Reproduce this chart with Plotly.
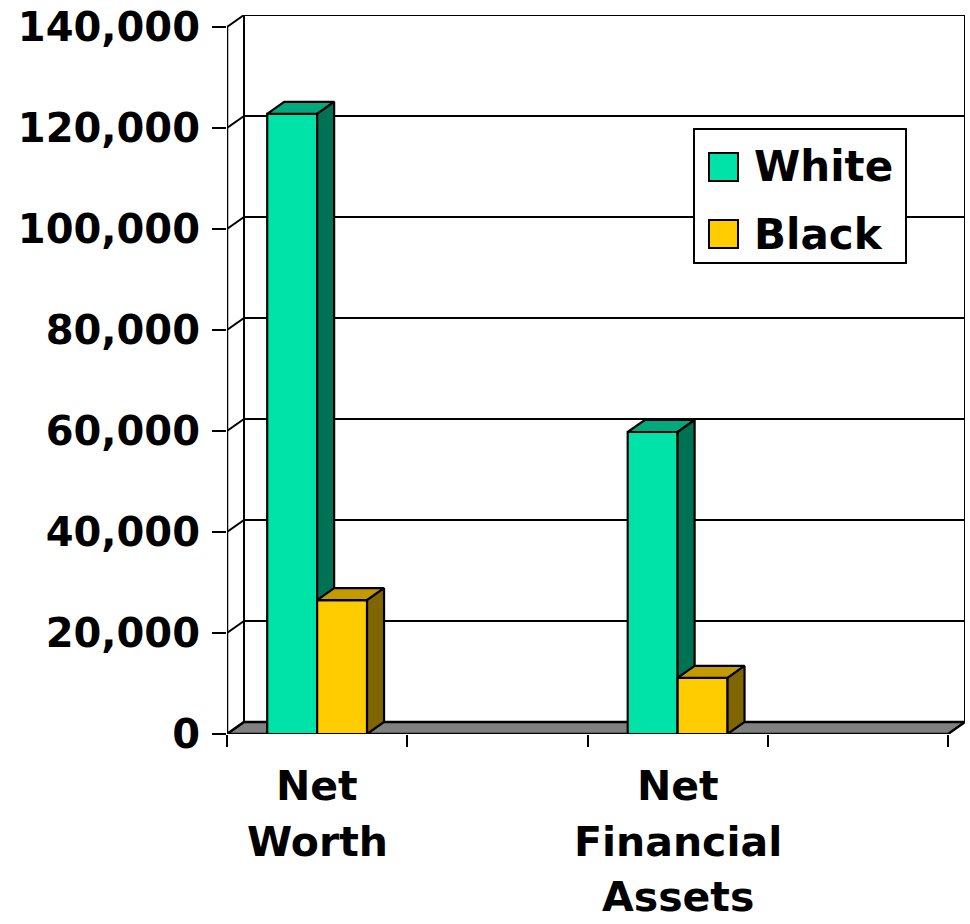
import plotly.graph_objects as go

# ---- data -------------------------------------------------------------
categories = ["Net Worth", "", "Net Financial Assets", ""]
cat_lines = [["Net", "Worth"], [], ["Net", "Financial", "Assets"], []]
series_names = ["White", "Black"]
white_values = [122800, None, 59800, None]
black_values = [26500, None, 11100, None]
y_ticks = [0, 20000, 40000, 60000, 80000, 100000, 120000, 140000]

# ---- styling ----------------------------------------------------------
FONT = "DejaVu Sans"
face_colors = {
    "White": ("#00E3A8", "#00AA7E", "#007254"),   # front, top, side
    "Black": ("#FFCC00", "#C29B00", "#806600"),
}
FLOOR = "#808080"
W, H = 970, 924
ML, MR, MT, MB = 227, 5, 15, 190
plot_w = W - ML - MR
plot_h = H - MT - MB

# depth of the pseudo-3D box in pixels
DEPTH_PX_X, DEPTH_PX_Y = 17, 12
ymax = max(y_ticks)
front_h_px = plot_h - DEPTH_PX_Y
y_top = ymax * plot_h / front_h_px
dyu = y_top - ymax
n_cat = len(categories)
front_w_px = plot_w - DEPTH_PX_X
dxu = n_cat * DEPTH_PX_X / front_w_px
x0, x1 = -0.5, n_cat - 0.5

bar_w = 0.277

fig = go.Figure()


def poly(xs, ys, fill, lw=2.2):
    fig.add_trace(go.Scatter(
        x=xs + [xs[0]], y=ys + [ys[0]], mode="lines", fill="toself",
        fillcolor=fill, line=dict(color="black", width=lw),
        hoverinfo="skip", showlegend=False))


def line(xs, ys, lw=2):
    fig.add_trace(go.Scatter(
        x=xs, y=ys, mode="lines", line=dict(color="black", width=lw),
        hoverinfo="skip", showlegend=False))


# floor
poly([x0, x1, x1 + dxu, x0 + dxu], [0, 0, dyu, dyu], FLOOR, lw=2.5)

# back wall gridlines and their links to the front value axis
for v in y_ticks:
    if v > 0:
        line([x0 + dxu, x1 + dxu], [v + dyu, v + dyu])
    line([x0, x0 + dxu], [v, v + dyu])
# back wall side edges
line([x0 + dxu, x0 + dxu], [dyu, ymax + dyu])
line([x1 + dxu, x1 + dxu], [dyu, ymax + dyu])
# front value axis
line([x0, x0], [0, ymax], lw=2.5)


def bar3d(left, h, colors):
    front, top, side = colors
    r = left + bar_w
    poly([left, r, r, left], [0, 0, h, h], front)
    poly([left, r, r + dxu, left + dxu], [h, h, h + dyu, h + dyu], top)
    poly([r, r + dxu, r + dxu, r], [0, dyu, h + dyu, h], side)


for i in range(n_cat):
    for name, vals, off in (("White", white_values, -bar_w),
                            ("Black", black_values, 0.0)):
        if vals[i] is not None:
            bar3d(i + off, vals[i], face_colors[name])

# category labels under the floor
for i, lines_ in enumerate(cat_lines):
    for j, t in enumerate(lines_):
        fig.add_annotation(
            x=i, y=0, xref="x", yref="y", text=t, showarrow=False,
            xanchor="center", yanchor="middle", yshift=-(52 + 55.5 * j),
            font=dict(family=FONT, size=41, color="black", weight="bold"))


# legend box
def px(xp):
    return (xp - ML) / plot_w


def py(yp):
    return (H - MB - yp) / plot_h


fig.add_shape(type="rect", xref="paper", yref="paper",
              x0=px(694), x1=px(906), y0=py(263), y1=py(129),
              fillcolor="white", line=dict(color="black", width=2))
for k, (name, cy) in enumerate(zip(series_names, [167, 234])):
    fig.add_shape(type="rect", xref="paper", yref="paper",
                  x0=px(709), x1=px(738), y0=py(cy + 14), y1=py(cy - 14),
                  fillcolor=face_colors[name][0],
                  line=dict(color="black", width=2))
    fig.add_annotation(
        x=px(752), y=py(cy), xref="paper", yref="paper", text=name,
        showarrow=False, xanchor="left", yanchor="middle",
        font=dict(family=FONT, size=42, color="black", weight="bold"))

fig.update_layout(
    width=W, height=H,
    margin=dict(l=ML, r=MR, t=MT, b=MB, pad=0),
    paper_bgcolor="white", plot_bgcolor="white",
    showlegend=False,
    xaxis=dict(range=[x0, x1 + dxu], showgrid=False, zeroline=False,
               showline=False,
               tickvals=[k - 0.5 for k in range(n_cat + 1)],
               ticks="outside", ticklen=12, tickwidth=2, tickcolor="black",
               showticklabels=False, fixedrange=True),
    yaxis=dict(range=[0, y_top], showgrid=False, zeroline=False,
               showline=False, tickvals=y_ticks, tickformat=",",
               ticks="outside", ticklen=14, tickwidth=2, tickcolor="black",
               ticklabelstandoff=4,
               tickfont=dict(family=FONT, size=40, color="black",
                             weight="bold"),
               fixedrange=True),
)

fig.write_html("out.html")
